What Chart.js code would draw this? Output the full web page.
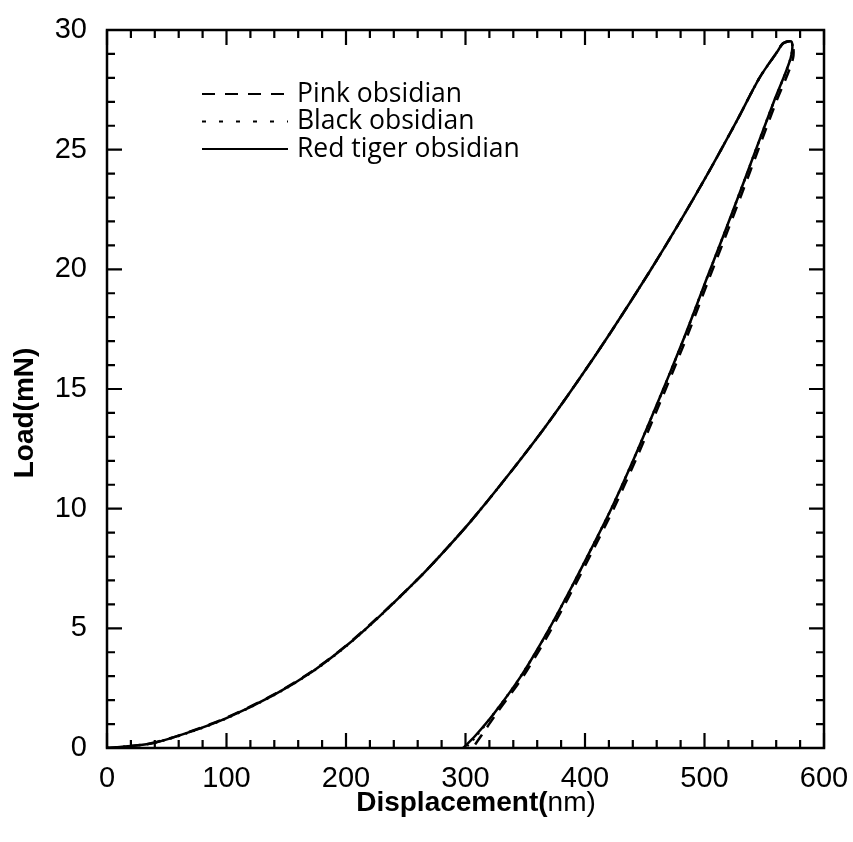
<!DOCTYPE html>
<html>
<head>
<meta charset="utf-8">
<script src="https://cdn.jsdelivr.net/npm/chart.js@4.4.1/dist/chart.umd.min.js"></script>
<style>
  html, body { margin: 0; padding: 0; background: #fff; }
  #wrap { width: 853px; height: 842px; }
</style>
</head>
<body>
<div id="wrap"><canvas id="chart" width="853" height="842"></canvas></div>
<script>
// series names (legend order)
const seriesNames = ["Pink obsidian", "Black obsidian", "Red tiger obsidian"];

// displacement (nm) / load (mN), loading then unloading
const pinkDisp = [0, 20, 40, 67, 100, 139, 172, 201, 228, 259, 279, 304, 331, 365, 393, 421, 454, 479, 505, 527, 546, 561, 566, 573,
                  574, 560, 545, 531.5, 517, 503, 487, 472.5, 457.5, 443, 424, 407, 389.5, 370, 348, 326, 313, 306];
const pinkLoad = [0, 0.08, 0.23, 0.64, 1.27, 2.22, 3.22, 4.32, 5.52, 7.0, 8.05, 9.45, 11.1, 13.3, 15.26, 17.33, 19.9, 21.95, 24.2, 26.2, 28.0, 29.1, 29.45, 29.5,
                  28.8, 27.0, 25.0, 23.2, 21.3, 19.5, 17.4, 15.6, 13.8, 12.1, 10.0, 8.3, 6.6, 4.8, 2.97, 1.45, 0.5, 0];

const blackDisp = [0, 20, 40, 67, 100, 139, 172, 201, 228, 259, 279, 304, 331, 365, 393, 421, 454, 479, 505, 527, 546, 561, 566, 573,
                   572, 558, 543, 529.5, 515, 501, 485, 470.5, 455.5, 441, 422, 405, 387.5, 368, 346, 324, 309, 300];
const blackLoad = [0, 0.08, 0.22, 0.62, 1.24, 2.19, 3.19, 4.29, 5.49, 7.0, 8.05, 9.45, 11.1, 13.3, 15.26, 17.33, 19.9, 21.95, 24.2, 26.2, 28.0, 29.1, 29.45, 29.5,
                   28.8, 27.0, 25.0, 23.2, 21.3, 19.5, 17.4, 15.6, 13.8, 12.1, 10.0, 8.3, 6.6, 4.8, 2.97, 1.45, 0.5, 0];

const redDisp = [0, 20, 40, 67, 100, 139, 172, 201, 228, 259, 279, 304, 331, 365, 393, 421, 454, 479, 505, 527, 546, 561, 566, 573,
                 572, 558, 543, 529.5, 515, 501, 485, 470.5, 455.5, 441, 422, 405, 387.5, 368, 346, 324, 308, 298];
const redLoad = [0, 0.08, 0.22, 0.63, 1.25, 2.2, 3.2, 4.3, 5.5, 7.0, 8.05, 9.45, 11.1, 13.3, 15.26, 17.33, 19.9, 21.95, 24.2, 26.2, 28.0, 29.1, 29.45, 29.5,
                 28.8, 27.0, 25.0, 23.2, 21.3, 19.5, 17.4, 15.6, 13.8, 12.1, 10.0, 8.3, 6.6, 4.8, 2.97, 1.45, 0.5, 0];

// axis ticks
const xTicks = [0, 100, 200, 300, 400, 500, 600];
const yTicks = [0, 5, 10, 15, 20, 25, 30];

const xTitle = ["Displacement(", "nm)"];
const yTitle = "Load(mN)";

function toPoints(xs, ys) {
    return xs.map((x, i) => ({ x: x, y: ys[i] }));
}

const tickFont = { family: "'Liberation Sans', Arial, sans-serif", size: 29 };

// frame with inward ticks on all four sides + axis titles
const framePlugin = {
    id: "frame",
    afterDatasetsDraw(chart) {
        const { ctx, chartArea: a, scales } = chart;
        const sx = scales.x, sy = scales.y;
        ctx.save();
        ctx.strokeStyle = "#000";
        ctx.lineWidth = 2.5;
        ctx.strokeRect(a.left, a.top, a.right - a.left, a.bottom - a.top);
        ctx.lineWidth = 2.2;
        ctx.beginPath();
        for (let v = 0; v <= 600; v += 20) {
            const px = sx.getPixelForValue(v);
            const len = v % 100 === 0 ? 15 : 8;
            ctx.moveTo(px, a.bottom); ctx.lineTo(px, a.bottom - len);
            ctx.moveTo(px, a.top); ctx.lineTo(px, a.top + len);
        }
        for (let v = 0; v <= 30; v += 1) {
            const py = sy.getPixelForValue(v);
            const len = v % 5 === 0 ? 15 : 8;
            ctx.moveTo(a.left, py); ctx.lineTo(a.left + len, py);
            ctx.moveTo(a.right, py); ctx.lineTo(a.right - len, py);
        }
        ctx.stroke();

        // axis titles
        ctx.fillStyle = "#000";
        ctx.textBaseline = "middle";
        ctx.font = "bold 28px 'Liberation Sans', Arial, sans-serif";
        const w1 = ctx.measureText(xTitle[0]).width;
        ctx.font = "28px 'Liberation Sans', Arial, sans-serif";
        const w2 = ctx.measureText(xTitle[1]).width;
        const x0 = 476 - (w1 + w2) / 2;
        ctx.textAlign = "left";
        ctx.font = "bold 28px 'Liberation Sans', Arial, sans-serif";
        ctx.fillText(xTitle[0], x0, 803);
        ctx.font = "28px 'Liberation Sans', Arial, sans-serif";
        ctx.fillText(xTitle[1], x0 + w1, 803);

        ctx.translate(25, 413);
        ctx.rotate(-Math.PI / 2);
        ctx.textAlign = "center";
        ctx.font = "bold 28px 'Liberation Sans', Arial, sans-serif";
        ctx.fillText(yTitle, 0, 0);
        ctx.restore();
    }
};

// legend inside the plot, upper left
const legendPlugin = {
    id: "inlineLegend",
    afterDraw(chart) {
        const ctx = chart.ctx;
        ctx.save();
        chart.data.datasets.forEach((ds, i) => {
            const y = 94 + i * 27.5;
            ctx.strokeStyle = "#000";
            ctx.lineWidth = 2;
            ctx.setLineDash(ds.legendDash);
            ctx.beginPath();
            ctx.moveTo(202, y);
            ctx.lineTo(288, y);
            ctx.stroke();
            ctx.setLineDash([]);
            ctx.fillStyle = "#000";
            ctx.font = "26.5px 'Open Sans', sans-serif";
            ctx.textBaseline = "middle";
            ctx.textAlign = "left";
            ctx.fillText(ds.label, 297, y);
        });
        ctx.restore();
    }
};

const ctx = document.getElementById("chart").getContext("2d");

new Chart(ctx, {
    type: "scatter",
    data: {
        datasets: [
            {
                label: seriesNames[0],
                data: toPoints(pinkDisp, pinkLoad),
                showLine: true,
                borderColor: "#000",
                borderWidth: 2.5,
                borderDash: [12, 9],
                legendDash: [13, 10],
                pointRadius: 0,
                tension: 0.3
            },
            {
                label: seriesNames[1],
                data: toPoints(blackDisp, blackLoad),
                showLine: true,
                borderColor: "#000",
                borderWidth: 2.5,
                borderDash: [2, 6],
                legendDash: [4, 13],
                pointRadius: 0,
                tension: 0.3
            },
            {
                label: seriesNames[2],
                data: toPoints(redDisp, redLoad),
                showLine: true,
                borderColor: "#000",
                borderWidth: 2.5,
                borderDash: [],
                legendDash: [],
                pointRadius: 0,
                tension: 0.3
            }
        ]
    },
    options: {
        responsive: false,
        animation: false,
        layout: { padding: { top: 30, right: 29, left: 0, bottom: 0 } },
        plugins: {
            legend: { display: false },
            tooltip: { enabled: false }
        },
        scales: {
            x: {
                type: "linear",
                min: 0,
                max: 600,
                afterBuildTicks: s => { s.ticks = xTicks.map(v => ({ value: v })); },
                ticks: { color: "#000", font: tickFont, padding: 14, maxRotation: 0 },
                grid: { display: false, drawTicks: false },
                border: { display: false },
                afterFit: s => { s.height = 94; s.paddingLeft = 0; s.paddingRight = 0; }
            },
            y: {
                type: "linear",
                min: 0,
                max: 30,
                afterBuildTicks: s => { s.ticks = yTicks.map(v => ({ value: v })); },
                ticks: { color: "#000", font: tickFont, padding: 20 },
                grid: { display: false, drawTicks: false },
                border: { display: false },
                afterFit: s => { s.width = 107; s.paddingTop = 0; s.paddingBottom = 0; }
            }
        }
    },
    plugins: [framePlugin, legendPlugin]
});
</script>
</body>
</html>
